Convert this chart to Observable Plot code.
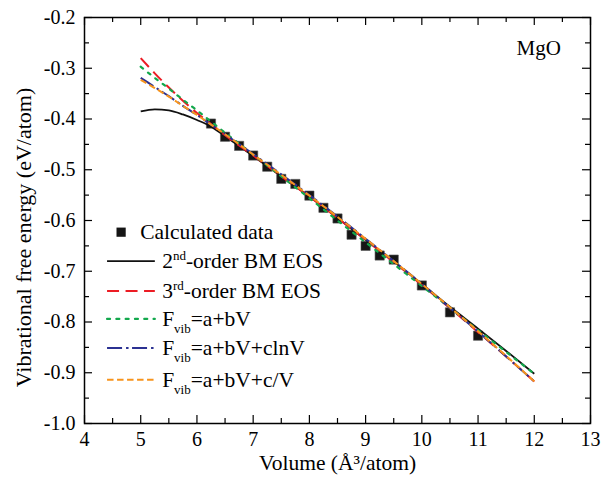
<!DOCTYPE html>
<html>
<head>
<meta charset="utf-8">
<script src="https://cdn.jsdelivr.net/npm/d3@7"></script>
<script src="https://cdn.jsdelivr.net/npm/@observablehq/plot@0.6"></script>
<style>
  body { margin: 0; background: #fff; }
  svg { display: block; }
</style>
</head>
<body>
<div id="chart"></div>
<script>
// ---------- data ----------
const calcV = [6.25, 6.5, 6.75, 7.0, 7.25, 7.5, 7.75, 8.0, 8.25, 8.5, 8.75, 9.0, 9.25, 9.5, 10.0, 10.5, 11.0];
const calcF = [-0.409, -0.435, -0.453, -0.472, -0.494, -0.518, -0.528, -0.551, -0.575, -0.596, -0.628, -0.650, -0.669, -0.677, -0.728, -0.781, -0.827];

const curveV  = [5.0, 5.25, 5.5, 5.75, 6.0, 6.25, 6.5, 7.0, 7.5, 8.0, 8.5, 9.0, 9.5, 10.0, 10.5, 11.0, 11.5, 12.0];
const bm2F    = [-0.385, -0.381, -0.383, -0.391, -0.402, -0.415, -0.434, -0.473, -0.513, -0.553, -0.595, -0.638, -0.681, -0.725, -0.770, -0.813, -0.857, -0.902];
const bm3F    = [-0.280, -0.310, -0.338, -0.364, -0.388, -0.410, -0.432, -0.472, -0.513, -0.553, -0.595, -0.638, -0.682, -0.727, -0.773, -0.820, -0.868, -0.917];
const linF    = [-0.297, -0.319, -0.340, -0.362, -0.383, -0.405, -0.427, -0.470, -0.513, -0.556, -0.600, -0.643, -0.686, -0.729, -0.772, -0.816, -0.859, -0.902];
const lnF     = [-0.319, -0.337, -0.355, -0.374, -0.392, -0.411, -0.430, -0.469, -0.509, -0.550, -0.592, -0.636, -0.680, -0.725, -0.772, -0.819, -0.868, -0.917];
const invF    = [-0.323, -0.339, -0.356, -0.374, -0.392, -0.411, -0.430, -0.470, -0.510, -0.551, -0.593, -0.636, -0.680, -0.725, -0.771, -0.818, -0.867, -0.917];

const seriesValues = [bm2F, bm3F, linF, lnF, invF];
const seriesColors = ["#111111", "#ec1c24", "#12a84c", "#2b3192", "#f7941d"];
const seriesDash   = [null, "12,6.5", "3,6.3", "15,4,2.5,3.5", "6.5,3.5"];
const seriesWidth  = [1.8, 2, 2.2, 2, 2];

const legendBase   = ["2", "3", "F", "F", "F"];
const legendScript = ["nd", "rd", "vib", "vib", "vib"];
const legendKind   = ["sup", "sup", "sub", "sub", "sub"];
const legendRest   = ["-order BM EOS", "-order BM EOS", "=a+bV", "=a+bV+clnV", "=a+bV+c/V"];
const pointLabel   = "Calculated data";

const xMajor = [4, 5, 6, 7, 8, 9, 10, 11, 12, 13];
const xMinor = [4.5, 5.5, 6.5, 7.5, 8.5, 9.5, 10.5, 11.5, 12.5];
const yMajor = [-1.0, -0.9, -0.8, -0.7, -0.6, -0.5, -0.4, -0.3, -0.2];
const yMinor = [-0.95, -0.85, -0.75, -0.65, -0.55, -0.45, -0.35, -0.25];

const xTitle = "Volume (Å³/atom)";
const yTitle = "Vibrational free energy (eV/atom)";
const tag = "MgO";

// ---------- layout ----------
const FONT = "Liberation Serif, Times New Roman, serif";
const W = 603, H = 485, ML = 84, MR = 13, MT = 17, MB = 62;
const FW = W - ML - MR, FH = H - MT - MB;

const calc = calcV.map((v, i) => ({V: v, F: calcF[i]}));
const curves = seriesValues.map(vals => curveV.map((v, i) => ({V: v, F: vals[i]})));

const marks = [
  Plot.ruleX(xMajor, {insetTop: FH - 8, stroke: "black", strokeWidth: 1.2}),
  Plot.ruleX(xMajor, {insetBottom: FH - 8, stroke: "black", strokeWidth: 1.2}),
  Plot.ruleX(xMinor, {insetTop: FH - 5, stroke: "black", strokeWidth: 1.2}),
  Plot.ruleX(xMinor, {insetBottom: FH - 5, stroke: "black", strokeWidth: 1.2}),
  Plot.ruleY(yMajor, {insetRight: FW - 8, stroke: "black", strokeWidth: 1.2}),
  Plot.ruleY(yMajor, {insetLeft: FW - 8, stroke: "black", strokeWidth: 1.2}),
  Plot.ruleY(yMinor, {insetRight: FW - 5, stroke: "black", strokeWidth: 1.2}),
  Plot.ruleY(yMinor, {insetLeft: FW - 5, stroke: "black", strokeWidth: 1.2}),
  Plot.frame({stroke: "black", strokeWidth: 1.5}),
  Plot.axisX(xMajor, {tickSize: 0, tickPadding: 8, label: null, tickFormat: d => String(d), fontSize: 20, fontFamily: FONT}),
  Plot.axisY(yMajor, {tickSize: 0, tickPadding: 9, label: null, tickFormat: d => d.toFixed(1), fontSize: 20, fontFamily: FONT}),
  Plot.dot(calc, {x: "V", y: "F", symbol: "square", r: 5.2, fill: "#151515", stroke: "#555", strokeWidth: 0.6})
];
curves.forEach((c, i) => {
  marks.push(Plot.line(c, {
    x: "V", y: "F", curve: "monotone-x",
    stroke: seriesColors[i], strokeWidth: seriesWidth[i],
    strokeDasharray: seriesDash[i], strokeLinecap: i === 2 ? "round" : "butt"
  }));
});
marks.push(
  Plot.text([yTitle], {text: d => d, frameAnchor: "left", textAnchor: "middle", dx: -61, dy: 17, rotate: -90, fontSize: 22, fontFamily: FONT}),
  Plot.text([xTitle], {text: d => d, frameAnchor: "bottom", textAnchor: "middle", dy: 46, fontSize: 21.5, fontFamily: FONT}),
  Plot.text([{V: 12.08, F: -0.26, t: tag}], {x: "V", y: "F", text: "t", fontSize: 21, fontFamily: FONT})
);

const chart = Plot.plot({
  width: W, height: H,
  marginLeft: ML, marginRight: MR, marginTop: MT, marginBottom: MB,
  x: {domain: [4, 13]},
  y: {domain: [-1.0, -0.2]},
  style: {fontFamily: FONT, fontSize: "20px", background: "white", color: "black"},
  marks
});

// ---------- legend (inside the frame, placed through the scales) ----------
const sx = chart.scale("x"), sy = chart.scale("y");
const svg = d3.select(chart);
const lg = svg.append("g")
  .style("font-family", FONT).attr("font-size", 21.5)
  .attr("fill", "black").attr("text-anchor", "start");
const lineV1 = 4.41, lineV2 = 5.26, textV = 5.39, squareV = 4.66, squareTextV = 5.0;
const rowF = [-0.624, -0.681, -0.740, -0.795, -0.852, -0.915];

lg.append("rect")
  .attr("x", sx.apply(squareV) - 4.6).attr("y", sy.apply(rowF[0]) - 4.6)
  .attr("width", 9.2).attr("height", 9.2).attr("fill", "#151515");
lg.append("text").attr("x", sx.apply(squareTextV)).attr("y", sy.apply(rowF[0])).attr("dy", "0.33em").text(pointLabel);

seriesColors.forEach((col, i) => {
  const y = sy.apply(rowF[i + 1]);
  lg.append("line")
    .attr("x1", sx.apply(lineV1)).attr("x2", sx.apply(lineV2))
    .attr("y1", y).attr("y2", y)
    .attr("stroke", col).attr("stroke-width", seriesWidth[i])
    .attr("stroke-dasharray", seriesDash[i])
    .attr("stroke-linecap", i === 2 ? "round" : "butt");
  const t = lg.append("text").attr("x", sx.apply(textV)).attr("y", y).attr("dy", "0.33em");
  t.append("tspan").text(legendBase[i]);
  const up = legendKind[i] === "sup";
  t.append("tspan").attr("font-size", 13).attr("dy", up ? -8 : 7).text(legendScript[i]);
  t.append("tspan").attr("dy", up ? 8 : -7).text(legendRest[i]);
});

document.getElementById("chart").appendChild(chart);
</script>
</body>
</html>
